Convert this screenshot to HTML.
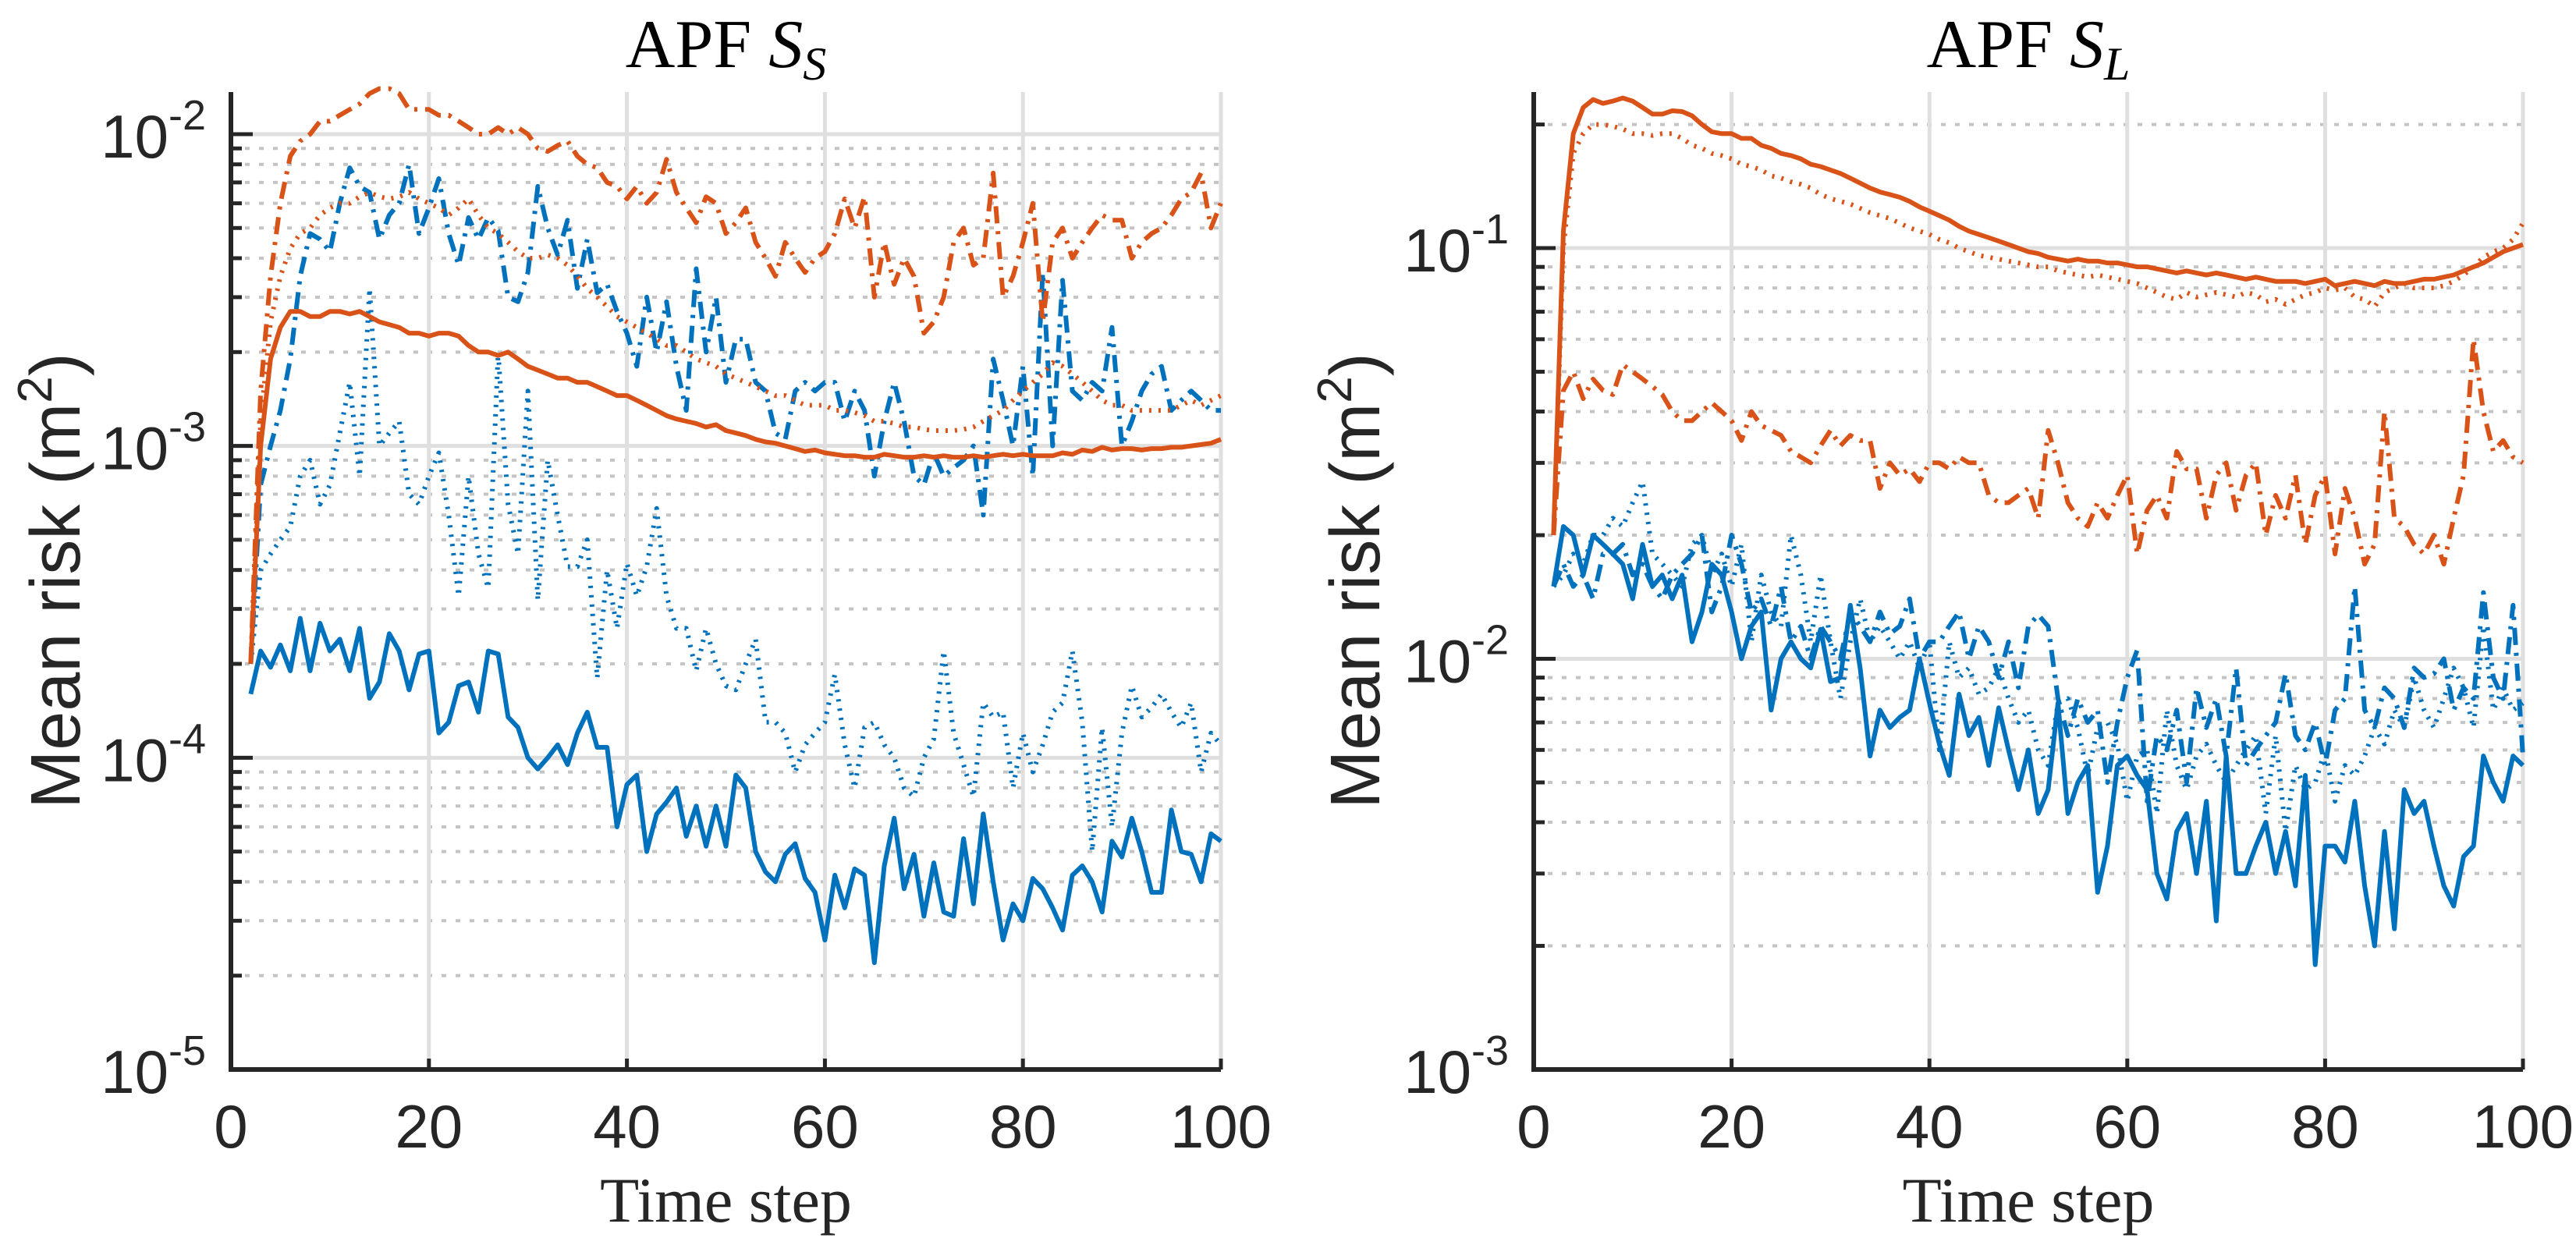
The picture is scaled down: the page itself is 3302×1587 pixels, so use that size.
<!DOCTYPE html>
<html><head><meta charset="utf-8"><style>
html,body{margin:0;padding:0;background:#fff;}
svg{display:block;}
</style></head><body>
<svg id="fig" width="3302" height="1587" viewBox="0 0 3302 1587" xmlns="http://www.w3.org/2000/svg">
</svg>
<script>
const steps = Array.from({length: 99}, (_, i) => i + 2);
const xTicks = [0, 20, 40, 60, 80, 100];

// ---- Left panel (APF S_S) ----
const leftBlueSolid = [1.6e-4,2.2e-4,1.95e-4,2.3e-4,1.9e-4,2.8e-4,1.9e-4,2.7e-4,2.2e-4,2.4e-4,1.9e-4,2.6e-4,1.55e-4,1.75e-4,2.5e-4,2.2e-4,1.65e-4,2.15e-4,2.2e-4,1.2e-4,1.3e-4,1.7e-4,1.75e-4,1.4e-4,2.2e-4,2.15e-4,1.35e-4,1.25e-4,1.0e-4,9.2e-5,1.0e-4,1.1e-4,9.5e-5,1.2e-4,1.4e-4,1.08e-4,1.08e-4,6.0e-5,8.2e-5,8.8e-5,5.0e-5,6.6e-5,7.2e-5,8.0e-5,5.6e-5,7.0e-5,5.2e-5,7.0e-5,5.2e-5,8.8e-5,8.0e-5,5.0e-5,4.3e-5,4.0e-5,4.9e-5,5.3e-5,4.1e-5,3.7e-5,2.6e-5,4.2e-5,3.3e-5,4.4e-5,4.2e-5,2.2e-5,4.5e-5,6.4e-5,3.8e-5,4.9e-5,3.1e-5,4.6e-5,3.2e-5,3.1e-5,5.5e-5,3.4e-5,6.6e-5,4.0e-5,2.6e-5,3.4e-5,3.0e-5,4.1e-5,3.8e-5,3.3e-5,2.8e-5,4.2e-5,4.5e-5,4.0e-5,3.2e-5,5.4e-5,4.8e-5,6.4e-5,5.0e-5,3.7e-5,3.7e-5,6.8e-5,5.0e-5,4.9e-5,4.0e-5,5.7e-5,5.4e-5];
const leftBlueDotted = [2.0e-4,4.0e-4,4.5e-4,5.0e-4,5.5e-4,8.0e-4,9.0e-4,6.5e-4,7.5e-4,1.1e-3,1.6e-3,8.0e-4,3.2e-3,1.0e-3,1.1e-3,1.2e-3,7.0e-4,6.5e-4,8.0e-4,9.5e-4,6.0e-4,3.3e-4,8.0e-4,4.5e-4,3.5e-4,2.0e-3,6.5e-4,4.5e-4,1.5e-3,3.2e-4,9.0e-4,6.0e-4,4.1e-4,4.1e-4,5.0e-4,1.8e-4,4.0e-4,2.6e-4,4.2e-4,3.3e-4,4.1e-4,6.3e-4,3.3e-4,2.6e-4,2.6e-4,1.9e-4,2.6e-4,2.0e-4,1.7e-4,1.65e-4,2.0e-4,2.4e-4,1.3e-4,1.3e-4,1.2e-4,9.0e-5,1.1e-4,1.2e-4,1.3e-4,1.85e-4,1.1e-4,8.0e-5,1.25e-4,1.3e-4,1.1e-4,1.0e-4,8.0e-5,7.5e-5,1.0e-4,1.15e-4,2.2e-4,1.2e-4,9.5e-5,7.5e-5,1.5e-4,1.35e-4,1.4e-4,8.0e-5,1.2e-4,9.0e-5,1.1e-4,1.4e-4,1.5e-4,2.2e-4,1.3e-4,5.0e-5,1.25e-4,6.0e-5,1.2e-4,1.7e-4,1.35e-4,1.45e-4,1.6e-4,1.4e-4,1.25e-4,1.5e-4,9.0e-5,1.2e-4,1.1e-4];
const leftBlueDashDot = [2.0e-4,7.5e-4,1.0e-3,1.3e-3,1.9e-3,3.5e-3,4.8e-3,4.6e-3,4.2e-3,6.0e-3,7.8e-3,6.8e-3,6.5e-3,4.6e-3,5.5e-3,6.0e-3,8.0e-3,4.8e-3,5.8e-3,7.2e-3,4.8e-3,3.8e-3,5.4e-3,4.6e-3,5.4e-3,4.9e-3,3.0e-3,2.9e-3,3.6e-3,6.8e-3,5.0e-3,4.1e-3,5.3e-3,3.2e-3,4.6e-3,3.1e-3,3.3e-3,2.7e-3,2.3e-3,1.8e-3,3.0e-3,2.0e-3,2.9e-3,1.8e-3,1.3e-3,3.7e-3,2.0e-3,3.0e-3,1.6e-3,2.2e-3,2.2e-3,1.6e-3,1.5e-3,1.1e-3,1.05e-3,1.5e-3,1.6e-3,1.5e-3,1.6e-3,1.6e-3,1.2e-3,1.5e-3,1.3e-3,8.0e-4,1.2e-3,1.6e-3,1.2e-3,8.0e-4,7.5e-4,9.5e-4,8.0e-4,8.5e-4,9.0e-4,1.0e-3,6.0e-4,1.9e-3,1.4e-3,1.0e-3,1.8e-3,8.0e-4,3.6e-3,1.0e-3,3.4e-3,1.5e-3,1.4e-3,1.6e-3,1.5e-3,2.4e-3,1.0e-3,1.2e-3,1.5e-3,1.7e-3,1.8e-3,1.3e-3,1.4e-3,1.5e-3,1.4e-3,1.3e-3,1.3e-3];
const leftOrangeSolid = [2.0e-4,1.0e-3,1.9e-3,2.4e-3,2.7e-3,2.7e-3,2.6e-3,2.6e-3,2.7e-3,2.7e-3,2.65e-3,2.7e-3,2.6e-3,2.5e-3,2.45e-3,2.4e-3,2.3e-3,2.3e-3,2.25e-3,2.3e-3,2.3e-3,2.25e-3,2.1e-3,2.0e-3,2.0e-3,1.95e-3,2.0e-3,1.9e-3,1.8e-3,1.75e-3,1.7e-3,1.65e-3,1.65e-3,1.6e-3,1.6e-3,1.55e-3,1.5e-3,1.45e-3,1.45e-3,1.4e-3,1.35e-3,1.3e-3,1.25e-3,1.22e-3,1.2e-3,1.18e-3,1.15e-3,1.17e-3,1.12e-3,1.1e-3,1.08e-3,1.05e-3,1.03e-3,1.02e-3,1.0e-3,0.98e-3,0.96e-3,0.97e-3,0.95e-3,0.94e-3,0.93e-3,0.93e-3,0.92e-3,0.92e-3,0.94e-3,0.93e-3,0.92e-3,0.92e-3,0.93e-3,0.92e-3,0.93e-3,0.92e-3,0.92e-3,0.93e-3,0.92e-3,0.93e-3,0.94e-3,0.93e-3,0.94e-3,0.93e-3,0.93e-3,0.93e-3,0.95e-3,0.94e-3,0.97e-3,0.96e-3,0.99e-3,0.97e-3,0.98e-3,0.98e-3,0.97e-3,0.98e-3,0.98e-3,0.99e-3,0.99e-3,1.0e-3,1.01e-3,1.02e-3,1.05e-3];
const leftOrangeDotted = [2.0e-4,1.2e-3,2.5e-3,3.5e-3,4.3e-3,4.8e-3,5.0e-3,5.5e-3,5.8e-3,6.0e-3,6.0e-3,6.3e-3,6.5e-3,6.3e-3,6.2e-3,6.3e-3,6.5e-3,6.2e-3,6.0e-3,5.8e-3,5.5e-3,5.8e-3,6.2e-3,5.5e-3,5.0e-3,4.8e-3,4.5e-3,4.2e-3,4.0e-3,4.0e-3,4.1e-3,4.0e-3,3.8e-3,3.5e-3,3.2e-3,3.0e-3,2.8e-3,2.6e-3,2.5e-3,2.4e-3,2.3e-3,2.2e-3,2.1e-3,2.1e-3,2.0e-3,1.9e-3,1.85e-3,1.8e-3,1.7e-3,1.65e-3,1.6e-3,1.55e-3,1.5e-3,1.45e-3,1.45e-3,1.4e-3,1.35e-3,1.35e-3,1.35e-3,1.3e-3,1.3e-3,1.28e-3,1.25e-3,1.2e-3,1.2e-3,1.18e-3,1.15e-3,1.15e-3,1.13e-3,1.12e-3,1.12e-3,1.12e-3,1.13e-3,1.15e-3,1.2e-3,1.25e-3,1.3e-3,1.4e-3,1.5e-3,1.6e-3,1.7e-3,1.85e-3,1.8e-3,1.7e-3,1.6e-3,1.5e-3,1.4e-3,1.35e-3,1.35e-3,1.3e-3,1.3e-3,1.3e-3,1.3e-3,1.3e-3,1.35e-3,1.4e-3,1.35e-3,1.4e-3,1.45e-3];
const leftOrangeDashDot = [2.0e-4,1.5e-3,3.5e-3,6.0e-3,8.5e-3,9.5e-3,1.0e-2,1.1e-2,1.1e-2,1.15e-2,1.2e-2,1.25e-2,1.35e-2,1.4e-2,1.4e-2,1.35e-2,1.2e-2,1.2e-2,1.2e-2,1.15e-2,1.15e-2,1.1e-2,1.05e-2,1.0e-2,1.0e-2,1.05e-2,1.0e-2,1.05e-2,1.0e-2,9.0e-3,8.8e-3,9.2e-3,9.5e-3,8.5e-3,8.0e-3,7.8e-3,7.0e-3,6.8e-3,6.2e-3,6.8e-3,6.0e-3,6.5e-3,8.3e-3,6.5e-3,5.8e-3,5.2e-3,6.3e-3,6.0e-3,4.8e-3,5.2e-3,5.8e-3,4.5e-3,4.0e-3,3.5e-3,4.5e-3,4.0e-3,3.6e-3,4.0e-3,4.2e-3,4.8e-3,6.2e-3,5.0e-3,6.3e-3,3.0e-3,4.5e-3,3.3e-3,4.0e-3,3.5e-3,2.3e-3,2.5e-3,3.0e-3,4.5e-3,5.0e-3,3.8e-3,4.0e-3,7.5e-3,3.0e-3,3.5e-3,4.5e-3,6.0e-3,2.5e-3,4.5e-3,5.0e-3,4.0e-3,4.5e-3,5.0e-3,5.5e-3,5.3e-3,5.3e-3,4.0e-3,4.5e-3,4.8e-3,5.0e-3,5.5e-3,6.2e-3,6.5e-3,7.5e-3,5.0e-3,6.0e-3];

// ---- Right panel (APF S_L) ----
const rightBlueSolid = [0.015,0.021,0.02,0.016,0.02,0.019,0.018,0.017,0.014,0.019,0.015,0.016,0.014,0.016,0.011,0.013,0.017,0.016,0.013,0.01,0.012,0.013,0.0075,0.01,0.011,0.01,0.0095,0.0118,0.0088,0.009,0.0135,0.0095,0.0058,0.0075,0.0068,0.0072,0.0075,0.01,0.0078,0.0062,0.0052,0.0082,0.0065,0.0072,0.0055,0.0076,0.006,0.0048,0.006,0.0042,0.0048,0.0078,0.0042,0.005,0.0055,0.0027,0.0035,0.0055,0.0058,0.0052,0.0048,0.003,0.0026,0.0038,0.0042,0.003,0.0045,0.0023,0.0058,0.003,0.003,0.0035,0.004,0.003,0.0038,0.0028,0.0052,0.0018,0.0035,0.0035,0.0032,0.0045,0.0028,0.002,0.0038,0.0022,0.0048,0.0042,0.0045,0.0035,0.0028,0.0025,0.0033,0.0035,0.0058,0.005,0.0045,0.0058,0.0055];
const rightBlueDotted = [0.015,0.016,0.018,0.017,0.02,0.02,0.022,0.021,0.024,0.027,0.018,0.017,0.016,0.015,0.019,0.02,0.016,0.018,0.015,0.019,0.011,0.016,0.013,0.012,0.02,0.016,0.011,0.016,0.011,0.008,0.011,0.014,0.011,0.012,0.011,0.01,0.011,0.0095,0.011,0.006,0.011,0.009,0.0095,0.0082,0.0085,0.0095,0.008,0.007,0.0075,0.006,0.0055,0.0078,0.008,0.0068,0.0052,0.0068,0.007,0.0062,0.0045,0.0058,0.006,0.0042,0.0075,0.0055,0.0048,0.0058,0.0062,0.0055,0.005,0.0055,0.006,0.0065,0.0042,0.0065,0.0038,0.0055,0.0048,0.005,0.006,0.0045,0.0055,0.0052,0.0058,0.0068,0.0062,0.0075,0.0068,0.009,0.0075,0.0068,0.008,0.0095,0.0085,0.0068,0.012,0.0075,0.0085,0.0075,0.0078];
const rightBlueDashDot = [0.015,0.017,0.015,0.016,0.014,0.018,0.018,0.019,0.016,0.017,0.015,0.014,0.016,0.017,0.018,0.02,0.013,0.015,0.02,0.017,0.013,0.014,0.012,0.015,0.011,0.012,0.01,0.012,0.011,0.01,0.013,0.012,0.011,0.013,0.0115,0.012,0.014,0.01,0.011,0.011,0.012,0.013,0.01,0.012,0.011,0.009,0.011,0.0085,0.012,0.0128,0.012,0.008,0.0065,0.008,0.007,0.0075,0.005,0.007,0.009,0.0105,0.0045,0.0065,0.006,0.0075,0.005,0.0085,0.0068,0.008,0.0058,0.0095,0.0055,0.006,0.0065,0.007,0.0092,0.0065,0.006,0.007,0.0055,0.0075,0.008,0.015,0.0075,0.0068,0.0085,0.008,0.0068,0.0095,0.009,0.0092,0.01,0.0075,0.0085,0.008,0.0145,0.009,0.008,0.0135,0.0058];
const rightOrangeSolid = [0.02,0.11,0.19,0.22,0.23,0.225,0.228,0.232,0.228,0.22,0.212,0.212,0.216,0.215,0.21,0.2,0.192,0.19,0.19,0.185,0.185,0.178,0.175,0.17,0.168,0.165,0.16,0.158,0.155,0.152,0.148,0.144,0.14,0.137,0.135,0.133,0.13,0.126,0.123,0.12,0.117,0.113,0.11,0.108,0.106,0.104,0.102,0.1,0.098,0.097,0.095,0.094,0.093,0.094,0.093,0.093,0.092,0.092,0.091,0.09,0.09,0.089,0.088,0.087,0.088,0.087,0.086,0.087,0.086,0.085,0.084,0.085,0.084,0.083,0.083,0.083,0.082,0.083,0.084,0.081,0.082,0.083,0.082,0.081,0.083,0.082,0.082,0.083,0.084,0.084,0.085,0.086,0.088,0.09,0.092,0.095,0.098,0.1,0.102];
const rightOrangeDotted = [0.02,0.1,0.17,0.19,0.2,0.2,0.198,0.195,0.19,0.19,0.188,0.19,0.19,0.185,0.178,0.175,0.17,0.168,0.165,0.16,0.158,0.155,0.15,0.148,0.145,0.143,0.14,0.135,0.132,0.13,0.128,0.125,0.122,0.12,0.118,0.115,0.112,0.11,0.108,0.105,0.103,0.1,0.098,0.096,0.095,0.094,0.093,0.092,0.091,0.09,0.09,0.088,0.087,0.086,0.085,0.086,0.085,0.084,0.083,0.082,0.08,0.078,0.076,0.075,0.078,0.076,0.077,0.078,0.077,0.076,0.078,0.077,0.074,0.075,0.073,0.075,0.077,0.078,0.08,0.079,0.08,0.076,0.075,0.072,0.078,0.08,0.082,0.08,0.08,0.08,0.081,0.083,0.086,0.09,0.095,0.098,0.1,0.105,0.115];
const rightOrangeDashDot = [0.02,0.045,0.05,0.043,0.048,0.045,0.044,0.052,0.05,0.048,0.046,0.044,0.04,0.038,0.038,0.04,0.042,0.04,0.038,0.034,0.04,0.037,0.036,0.035,0.032,0.031,0.03,0.033,0.036,0.033,0.035,0.034,0.034,0.026,0.03,0.028,0.029,0.027,0.03,0.03,0.029,0.031,0.03,0.03,0.025,0.024,0.024,0.025,0.026,0.022,0.036,0.03,0.024,0.022,0.021,0.024,0.022,0.025,0.028,0.018,0.023,0.025,0.022,0.032,0.029,0.029,0.022,0.028,0.03,0.023,0.028,0.03,0.02,0.025,0.022,0.028,0.019,0.025,0.028,0.018,0.026,0.022,0.017,0.019,0.04,0.022,0.021,0.019,0.018,0.02,0.017,0.022,0.028,0.06,0.04,0.032,0.034,0.031,0.03];

const leftDecades = [-5, -4, -3, -2];
const rightDecades = [-3, -2, -1];

const NS = 'http://www.w3.org/2000/svg';
const svg = document.getElementById('fig');
const BLUE = '#0072BD', ORANGE = '#D95319';
const STYLE = {solid: null, dotted: '3,9', dashdot: '22,10,4,10'};

function el(tag, attrs, parent) {
  const e = document.createElementNS(NS, tag);
  for (const k in attrs) e.setAttribute(k, attrs[k]);
  (parent || svg).appendChild(e);
  return e;
}

function drawPanel(p) {
  const g = el('g', {});
  
  
  const xS = v => p.x0 + (v - 0) / 100 * (p.x1 - p.x0);
  const lmin = p.decades[0], lmax = p.ymaxLog;
  const yS = v => p.yb - (Math.log10(v) - lmin) / (lmax - lmin) * (p.yb - p.yt);

  for (const d of p.decades) {
    for (let m = 2; m <= 9; m++) {
      const v = m * Math.pow(10, d);
      if (Math.log10(v) > lmax) continue;
      const y = yS(v);
      const ln = el('line', {x1: p.x0, x2: p.x1, y1: y, y2: y, stroke: '#c4c4c4', 'stroke-width': 4, 'stroke-dasharray': '6,12'}, g);
      
      
      const tk = el('line', {x1: p.x0, x2: p.x0 + 14, y1: y, y2: y, stroke: '#262626', 'stroke-width': 5}, g);
      
      
    }
  }
  for (const d of p.decades) {
    const y = yS(Math.pow(10, d));
    const ln = el('line', {x1: p.x0, x2: p.x1, y1: y, y2: y, stroke: '#dfdfdf', 'stroke-width': 5}, g);
    
    
    const tk = el('line', {x1: p.x0, x2: p.x0 + 28, y1: y, y2: y, stroke: '#262626', 'stroke-width': 5}, g);
    
    
    const t = el('text', {x: p.x0 - 32, y: y + 30, 'text-anchor': 'end', 'font-family': 'Liberation Sans, Arial, sans-serif', 'font-size': 78, fill: '#262626'}, g);
    
    
    t.appendChild(document.createTextNode('10'));
    const s = el('tspan', {dy: -36, 'font-size': 54}, t);
    s.textContent = String(d);
  }
  for (const v of xTicks) {
    const x = xS(v);
    if (v > 0) {
      const ln = el('line', {x1: x, x2: x, y1: p.yt, y2: p.yb, stroke: '#dfdfdf', 'stroke-width': 5}, g);
      
      
      const tk = el('line', {x1: x, x2: x, y1: p.yb, y2: p.yb - 14, stroke: '#262626', 'stroke-width': 5}, g);
      
      
    }
    const t = el('text', {x: x, y: p.yb + 100, 'text-anchor': 'middle', 'font-family': 'Liberation Sans, Arial, sans-serif', 'font-size': 78, fill: '#262626'}, g);
    
    
    t.textContent = String(v);
  }
  for (const s of p.series) {
    const pts = s.values.map((v, i) => xS(steps[i]).toFixed(1) + ',' + yS(v).toFixed(1)).join(' ');
    const attrs = {points: pts, fill: 'none', stroke: s.color, 'stroke-width': 6, 'stroke-linejoin': 'round'};
    if (STYLE[s.style]) attrs['stroke-dasharray'] = STYLE[s.style];
    const pl = el('polyline', attrs, g);
    
    
  }
  const ax = el('path', {d: `M${p.x0},${p.yt} V${p.yb} H${p.x1}`, fill: 'none', stroke: '#262626', 'stroke-width': 6}, g);
  
  
  const cx = (p.x0 + p.x1) / 2;
  const tt = el('text', {x: cx, y: 86, 'text-anchor': 'middle', 'font-family': 'Liberation Serif, Times New Roman, serif', 'font-size': 88, fill: '#000'}, g);
  
  
  tt.appendChild(document.createTextNode('APF '));
  const ts = el('tspan', {'font-style': 'italic'}, tt); ts.textContent = 'S';
  const tsub = el('tspan', {'font-style': 'italic', 'font-size': 60, dy: 16}, tt); tsub.textContent = p.sub;
  const xl = el('text', {x: cx, y: 1566, 'text-anchor': 'middle', 'font-family': 'Liberation Serif, Times New Roman, serif', 'font-size': 82, fill: '#262626'}, g);
  
  
  xl.textContent = 'Time step';
  const yc = (p.yt + p.yb) / 2;
  const yl = el('text', {x: 0, y: 0, transform: `translate(${p.ylx},${yc}) rotate(-90)`, 'text-anchor': 'middle', 'font-family': 'Liberation Sans, Arial, sans-serif', 'font-size': 90, fill: '#262626'}, g);
  
  
  yl.appendChild(document.createTextNode('Mean risk (m'));
  const sup = el('tspan', {dy: -36, 'font-size': 62}, yl); sup.textContent = '2';
  const cl = el('tspan', {dy: 36}, yl); cl.textContent = ')';
}

drawPanel({
  name: 'panel-apf-ss', sub: 'S', x0: 296, x1: 1565, yt: 118, yb: 1371,
  decades: leftDecades, ymaxLog: -1.865, ylx: 102,
  series: [
    {name: 'left-blue-solid', values: leftBlueSolid, color: BLUE, style: 'solid'},
    {name: 'left-blue-dotted', values: leftBlueDotted, color: BLUE, style: 'dotted'},
    {name: 'left-blue-dashdot', values: leftBlueDashDot, color: BLUE, style: 'dashdot'},
    {name: 'left-orange-solid', values: leftOrangeSolid, color: ORANGE, style: 'solid'},
    {name: 'left-orange-dotted', values: leftOrangeDotted, color: ORANGE, style: 'dotted'},
    {name: 'left-orange-dashdot', values: leftOrangeDashDot, color: ORANGE, style: 'dashdot'}
  ]
});
drawPanel({
  name: 'panel-apf-sl', sub: 'L', x0: 1966, x1: 3234, yt: 118, yb: 1371,
  decades: rightDecades, ymaxLog: -0.62, ylx: 1768,
  series: [
    {name: 'right-blue-solid', values: rightBlueSolid, color: BLUE, style: 'solid'},
    {name: 'right-blue-dotted', values: rightBlueDotted, color: BLUE, style: 'dotted'},
    {name: 'right-blue-dashdot', values: rightBlueDashDot, color: BLUE, style: 'dashdot'},
    {name: 'right-orange-solid', values: rightOrangeSolid, color: ORANGE, style: 'solid'},
    {name: 'right-orange-dotted', values: rightOrangeDotted, color: ORANGE, style: 'dotted'},
    {name: 'right-orange-dashdot', values: rightOrangeDashDot, color: ORANGE, style: 'dashdot'}
  ]
});
</script>
</body></html>
